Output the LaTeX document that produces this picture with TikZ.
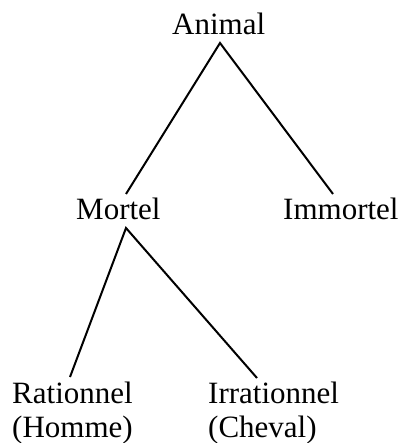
\documentclass[tikz,border=0pt]{standalone}
\usepackage{fontspec}
\setmainfont{Liberation Serif}
\begin{document}
\begin{tikzpicture}[x=1pt,y=-1pt,
  lbl/.style={anchor=base west,inner sep=0pt,font=\fontsize{31}{34}\selectfont},
  edge/.style={line width=2pt}]
\useasboundingbox (0,0) rectangle (402,443);
\node[lbl] (animal) at (172,35) {Animal};
\node[lbl] (mortel) at (76,219) {Mortel};
\node[lbl] (immortel) at (283,219) {Immortel};
\node[lbl] (rationnel) at (12,403) {Rationnel};
\node[lbl] (homme) at (12,437) {(Homme)};
\node[lbl] (irrationnel) at (208,403) {Irrationnel};
\node[lbl] (cheval) at (208,437) {(Cheval)};
\coordinate (a0) at (220,43);
\coordinate (m1) at (126,194);
\coordinate (i1) at (333,194);
\coordinate (m0) at (126,228);
\coordinate (r1) at (70,377);
\coordinate (ir1) at (257,378);
\draw[edge] (m1) -- (a0) -- (i1);
\draw[edge] (r1) -- (m0) -- (ir1);
\end{tikzpicture}
\end{document}
